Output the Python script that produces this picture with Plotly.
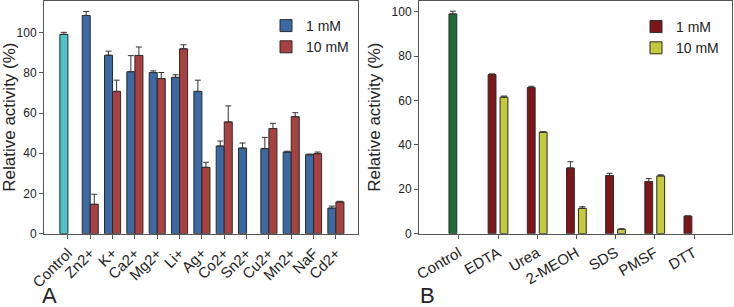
import plotly.graph_objects as go

# ---- Panel A data ----
cats_a = ["Control", "Zn2+", "K+", "Ca2+", "Mg2+", "Li+", "Ag+", "Co2+", "Sn2+",
          "Cu2+", "Mn2+", "NaF", "Cd2+"]
control_a = [99.2]
control_a_err = [1.0]
a_1mM = [None, 108.6, 88.8, 80.6, 80.2, 77.8, 70.8, 43.6, 42.6, 42.3, 40.6, 39.3, 12.7]
a_1mM_err = [0, 2.0, 2.0, 8.0, 0.8, 1.3, 5.6, 2.5, 2.5, 5.6, 0.4, 0.3, 1.0]
a_10mM = [None, 14.6, 70.8, 88.7, 77.2, 92.0, 33.0, 55.6, None, 52.3, 58.2, 39.8, 15.8]
a_10mM_err = [0, 5.0, 5.6, 4.2, 3.0, 2.0, 2.5, 8.0, 0, 2.6, 2.0, 0.8, 0.3]

# ---- Panel B data ----
cats_b = ["Control", "EDTA", "Urea", "2-MEOH", "SDS", "PMSF", "DTT"]
control_b = [99.0]
control_b_err = [1.2]
b_1mM = [None, 71.7, 65.8, 29.6, 26.2, 23.5, 7.9]
b_1mM_err = [0, 0.3, 0.6, 2.8, 1.0, 1.3, 0]
b_10mM = [None, 61.5, 45.7, 11.4, 1.9, 26.0, None]
b_10mM_err = [0, 0.5, 0.2, 0.7, 0.3, 0.5, 0]

y_ticks = [0, 20, 40, 60, 80, 100]

FONT = "Liberation Sans, Arial, sans-serif"
TXT = "#222222"
EDGE = "#2a2a2a"
AXC = "#555555"

def err(arr, color="#333333"):
    return dict(type="data", array=arr, arrayminus=[0] * len(arr), symmetric=False,
                color=color, thickness=1, width=3)

fig = go.Figure()

# Panel A bars (width/offset in category units)
wa = 0.36
fig.add_trace(go.Bar(x=cats_a[:1], y=control_a, error_y=err(control_a_err),
                     marker=dict(color="#4cc6c9", line=dict(color=EDGE, width=1)),
                     width=wa, offset=-wa, showlegend=False, xaxis="x", yaxis="y"))
fig.add_trace(go.Bar(x=cats_a, y=a_1mM, error_y=err(a_1mM_err), name="1 mM",
                     marker=dict(color="#3b69a3", line=dict(color=EDGE, width=1)),
                     width=wa, offset=-wa, legend="legend", xaxis="x", yaxis="y"))
fig.add_trace(go.Bar(x=cats_a, y=a_10mM, error_y=err(a_10mM_err), name="10 mM",
                     marker=dict(color="#a8413f", line=dict(color=EDGE, width=1)),
                     width=wa, offset=0, legend="legend", xaxis="x", yaxis="y"))

# Panel B bars
wb = 0.2
fig.add_trace(go.Bar(x=cats_b[:1], y=control_b, error_y=err(control_b_err),
                     marker=dict(color="#1f6b3b", line=dict(color=EDGE, width=1)),
                     width=wb, offset=-0.255, showlegend=False, xaxis="x2", yaxis="y2"))
fig.add_trace(go.Bar(x=cats_b, y=b_1mM, error_y=err(b_1mM_err), name="1 mM",
                     marker=dict(color="#7d1519", line=dict(color=EDGE, width=1)),
                     width=wb, offset=-0.255, legend="legend2", xaxis="x2", yaxis="y2"))
fig.add_trace(go.Bar(x=cats_b, y=b_10mM, error_y=err(b_10mM_err), name="10 mM",
                     marker=dict(color="#c4ca3c", line=dict(color=EDGE, width=1)),
                     width=wb, offset=0.05, legend="legend2", xaxis="x2", yaxis="y2"))

xcommon = dict(type="category", showline=True, linecolor=AXC, linewidth=1, mirror=True,
               ticks="outside", ticklen=4, tickcolor=AXC, showgrid=False, zeroline=False,
               automargin=False, tickfont=dict(family=FONT, size=15, color=TXT))
ycommon = dict(showline=True, linecolor=AXC, linewidth=1, mirror=True, ticks="outside",
               ticklen=4, tickcolor=AXC, showgrid=False, zeroline=False, automargin=False,
               tickvals=y_ticks, tickfont=dict(family=FONT, size=12, color=TXT),
               title=dict(text="Relative activity (%)", font=dict(family=FONT, size=17, color=TXT),
                          standoff=6))

ydom = [0.239, 0.998]
fig.update_layout(
    width=734, height=307, margin=dict(l=0, r=0, t=0, b=0),
    paper_bgcolor="white", plot_bgcolor="white", barmode="overlay",
    xaxis=dict(xcommon, domain=[44 / 734, 358 / 734], range=[-1.07, 12.99], tickangle=-45,
               anchor="y"),
    yaxis=dict(ycommon, domain=ydom, range=[0, 116], anchor="x"),
    xaxis2=dict(xcommon, domain=[419 / 734, 732 / 734], range=[-1.02, 6.97], tickangle=-30,
                anchor="y2"),
    yaxis2=dict(ycommon, domain=ydom, range=[0, 105], anchor="x2"),
    legend=dict(x=266 / 734, y=1 - 10 / 307, xanchor="left", yanchor="top",
                bgcolor="rgba(0,0,0,0)", font=dict(family=FONT, size=14, color=TXT),
                itemwidth=30, tracegroupgap=0),
    legend2=dict(x=636 / 734, y=1 - 11 / 307, xanchor="left", yanchor="top",
                 bgcolor="rgba(0,0,0,0)", font=dict(family=FONT, size=14, color=TXT),
                 itemwidth=30, tracegroupgap=0),
    annotations=[
        dict(text="A", x=40 / 734, y=0, xref="paper", yref="paper", xanchor="left",
             yanchor="bottom", yshift=-3, showarrow=False,
             font=dict(family=FONT, size=22, color=TXT)),
        dict(text="B", x=418 / 734, y=0, xref="paper", yref="paper", xanchor="left",
             yanchor="bottom", yshift=-3, showarrow=False,
             font=dict(family=FONT, size=22, color=TXT)),
    ],
)

fig.write_html("out.html", config={"displayModeBar": False},
               post_script="document.body.style.margin='0';")
